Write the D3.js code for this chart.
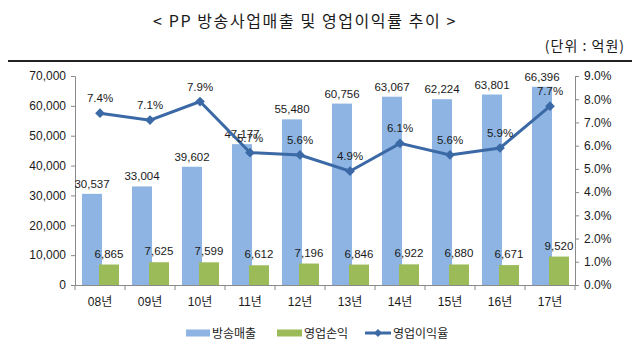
<!DOCTYPE html>
<html>
<head>
<meta charset="utf-8">
<script src="https://cdn.jsdelivr.net/npm/d3@7"></script>
<style>
  body { margin: 0; background: #fff; }
  text { font-family: "Liberation Sans", "Noto Sans CJK KR", sans-serif; fill: #1a1a1a; }
  .kr { font-family: "Noto Sans CJK KR", sans-serif; }
</style>
</head>
<body>
<script>
const years = ['08년', '09년', '10년', '11년', '12년', '13년', '14년', '15년', '16년', '17년'];
const sales = [30537, 33004, 39602, 47177, 55480, 60756, 63067, 62224, 63801, 66396];
const profit = [6865, 7625, 7599, 6612, 7196, 6846, 6922, 6880, 6671, 9520];
const margin = [7.4, 7.1, 7.9, 5.7, 5.6, 4.9, 6.1, 5.6, 5.9, 7.7];
const leftTicks = [0, 10000, 20000, 30000, 40000, 50000, 60000, 70000];
const rightTicks = [0, 1, 2, 3, 4, 5, 6, 7, 8, 9];

const blue = '#8db4e2', green = '#9bbb59', lineCol = '#3b69a6', axisCol = '#8a8a8a';

const svg = d3.select('body').append('svg').attr('width', 640).attr('height', 350);

// heading
svg.append('text').attr('class', 'kr').attr('x', 305).attr('y', 27)
  .attr('text-anchor', 'middle').style('font-size', '16px').style('letter-spacing', '1.6px')
  .text('< PP 방송사업매출 및 영업이익률 추이 >');
svg.append('text').attr('class', 'kr').attr('x', 625).attr('y', 51)
  .attr('text-anchor', 'end').style('font-size', '14px').style('letter-spacing', '1px')
  .text('(단위 : 억원)');
svg.append('line').attr('x1', 8).attr('x2', 632).attr('y1', 61).attr('y2', 61)
  .attr('stroke', '#222').attr('stroke-width', 2);

// scales
const x = d3.scaleBand().domain(years).range([75, 575]);
const y = d3.scaleLinear().domain([0, 70000]).range([285, 76]);
const y2 = d3.scaleLinear().domain([0, 9]).range([285, 76]);

// axes
const gl = svg.append('g').attr('transform', 'translate(75,0)')
  .call(d3.axisLeft(y).tickValues(leftTicks).tickFormat(d3.format(',')).tickSize(4).tickSizeOuter(4).tickPadding(5));
const gr = svg.append('g').attr('transform', 'translate(575,0)')
  .call(d3.axisRight(y2).tickValues(rightTicks).tickFormat(d => d.toFixed(1) + '%').tickSize(4).tickSizeOuter(4).tickPadding(5));
const gx = svg.append('g').attr('transform', 'translate(0,285)')
  .call(d3.axisBottom(x).tickSize(0).tickPadding(12));
gx.selectAll('.tick').append('line')
  .attr('x1', -x.bandwidth() / 2).attr('x2', -x.bandwidth() / 2)
  .attr('y1', 0).attr('y2', 5).attr('stroke', axisCol);
gx.append('line').attr('x1', 575).attr('x2', 575).attr('y1', 0).attr('y2', 5).attr('stroke', axisCol);
[gl, gr, gx].forEach(g => {
  g.selectAll('path, line').attr('stroke', axisCol);
  g.selectAll('text').style('font-size', '12px').style('font-family', '"Liberation Sans", "Noto Sans CJK KR", sans-serif').attr('fill', '#1a1a1a');
});

const cx = d => x(d) + x.bandwidth() / 2;

// bars
svg.selectAll('.sales').data(years).enter().append('rect')
  .attr('x', d => cx(d) - 18).attr('width', 20)
  .attr('y', (d, i) => y(sales[i])).attr('height', (d, i) => 285 - y(sales[i]))
  .attr('fill', blue);
svg.selectAll('.profit').data(years).enter().append('rect')
  .attr('x', d => cx(d) - 1).attr('width', 20)
  .attr('y', (d, i) => y(profit[i])).attr('height', (d, i) => 285 - y(profit[i]))
  .attr('fill', green);

// bar labels
svg.selectAll('.sl').data(years).enter().append('text')
  .attr('x', d => cx(d) - 8).attr('y', (d, i) => y(sales[i]) - 6)
  .attr('text-anchor', 'middle').style('font-size', '11.5px')
  .text((d, i) => d3.format(',')(sales[i]));
svg.selectAll('.pl').data(years).enter().append('text')
  .attr('x', d => cx(d) + 9).attr('y', (d, i) => y(profit[i]) - 7)
  .attr('text-anchor', 'middle').style('font-size', '11.5px')
  .text((d, i) => d3.format(',')(profit[i]));

// margin line
const line = d3.line().x((d, i) => cx(years[i])).y(d => y2(d));
svg.append('path').datum(margin).attr('d', line)
  .attr('fill', 'none').attr('stroke', lineCol).attr('stroke-width', 3);
svg.selectAll('.mk').data(margin).enter().append('path')
  .attr('d', d3.symbol(d3.symbolDiamond2, 60))
  .attr('transform', (d, i) => `translate(${cx(years[i])},${y2(d)})`)
  .attr('fill', lineCol);
svg.selectAll('.ml').data(margin).enter().append('text')
  .attr('x', (d, i) => cx(years[i])).attr('y', d => y2(d) - 11)
  .attr('text-anchor', 'middle').style('font-size', '11.5px')
  .text(d => d.toFixed(1) + '%');

// legend
const leg = svg.append('g').attr('transform', 'translate(0,333)');
leg.append('rect').attr('x', 186).attr('y', -3.5).attr('width', 24).attr('height', 7).attr('fill', blue);
leg.append('text').attr('class', 'kr').attr('x', 212).attr('y', 4.5).style('font-size', '12px').text('방송매출');
leg.append('rect').attr('x', 277).attr('y', -3.5).attr('width', 25).attr('height', 7).attr('fill', green);
leg.append('text').attr('class', 'kr').attr('x', 304).attr('y', 4.5).style('font-size', '12px').text('영업손익');
leg.append('line').attr('x1', 365).attr('x2', 391).attr('y1', 0).attr('y2', 0).attr('stroke', lineCol).attr('stroke-width', 3);
leg.append('path').attr('d', d3.symbol(d3.symbolDiamond2, 40)).attr('transform', 'translate(378,0)').attr('fill', lineCol);
leg.append('text').attr('class', 'kr').attr('x', 393).attr('y', 4.5).style('font-size', '12px').text('영업이익율');
</script>
</body>
</html>
